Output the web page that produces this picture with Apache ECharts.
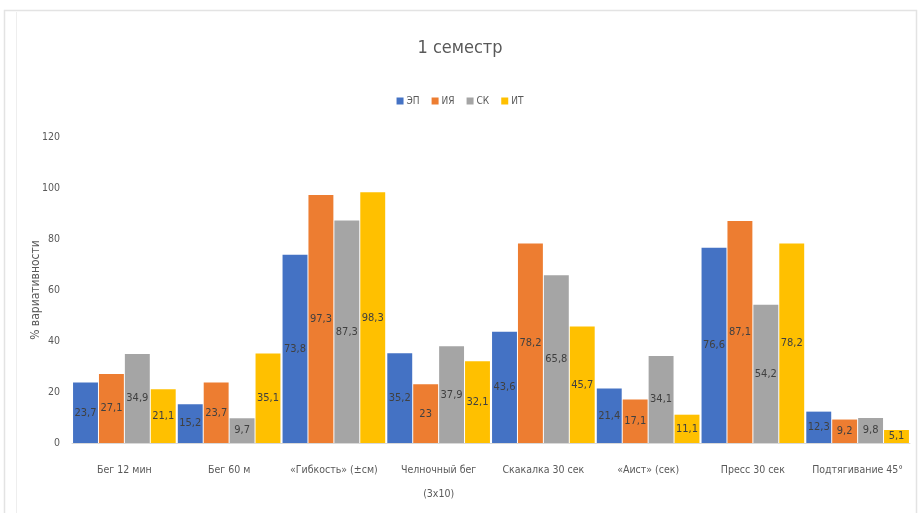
<!DOCTYPE html>
<html>
<head>
<meta charset="utf-8">
<script src="https://cdn.jsdelivr.net/npm/echarts@6/dist/echarts.min.js"></script>
<style>
  html, body { margin: 0; padding: 0; background: #ffffff; }
  #chart { width: 920px; height: 513px; }
</style>
</head>
<body>
<div id="chart"></div>
<script>
// Tests (x axis)
const categories = [
  'Бег 12 мин',
  'Бег 60 м',
  '«Гибкость» (±см)',
  'Челночный бег\n(3х10)',
  'Скакалка 30 сек',
  '«Аист» (сек)',
  'Пресс 30 сек',
  'Подтягивание 45°'
];

// Groups shown in the legend
const seriesNames = ['ЭП', 'ИЯ', 'СК', 'ИТ'];

// Coefficient of variation, % (1st semester)
const valuesEP = [23.7, 15.2, 73.8, 35.2, 43.6, 21.4, 76.6, 12.3];
const valuesIYa = [27.1, 23.7, 97.3, 23, 78.2, 17.1, 87.1, 9.2];
const valuesSK = [34.9, 9.7, 87.3, 37.9, 65.8, 34.1, 54.2, 9.8];
const valuesIT = [21.1, 35.1, 98.3, 32.1, 45.7, 11.1, 78.2, 5.1];

// Y axis ticks
const yTicks = [0, 20, 40, 60, 80, 100, 120];

const seriesValues = [valuesEP, valuesIYa, valuesSK, valuesIT];
const colors = ['#4472C4', '#ED7D31', '#A5A5A5', '#FFC000'];
const fontFamily = '"Liberation Sans Narrow", "DejaVu Sans Condensed", sans-serif';

const chart = echarts.init(document.getElementById('chart'), null, { renderer: 'canvas' });

chart.setOption({
  animation: false,
  backgroundColor: '#ffffff',
  color: colors,
  textStyle: { fontFamily: fontFamily },
  graphic: [
    {
      type: 'rect',
      shape: { x: 4.5, y: 10.5, width: 912, height: 520 },
      style: { fill: 'none', stroke: '#e3e3e3', lineWidth: 1.5 },
      silent: true, z: -1
    },
    {
      type: 'line',
      shape: { x1: 16.5, y1: 12, x2: 16.5, y2: 520 },
      style: { stroke: '#eeeeee', lineWidth: 1 },
      silent: true, z: -1
    }
  ],
  title: {
    text: '1 семестр',
    left: 'center',
    top: 34,
    textStyle: { fontFamily: fontFamily, fontSize: 18, fontWeight: 'normal', color: '#595959' }
  },
  legend: {
    data: seriesNames,
    top: 91,
    left: 'center',
    itemWidth: 7,
    itemHeight: 7,
    itemGap: 12,
    icon: 'rect',
    textStyle: { fontFamily: fontFamily, fontSize: 10, color: '#595959', padding: [0, 0, 0, -2] }
  },
  grid: { left: 72, right: 10, top: 137, bottom: 70 },
  xAxis: {
    type: 'category',
    data: categories,
    axisTick: { show: false },
    axisLine: { lineStyle: { color: '#d9d9d9' } },
    axisLabel: {
      interval: 0,
      margin: 15,
      fontFamily: fontFamily,
      fontSize: 10.5,
      color: '#595959',
      lineHeight: 24
    }
  },
  yAxis: {
    type: 'value',
    min: yTicks[0],
    max: yTicks[yTicks.length - 1],
    interval: yTicks[1] - yTicks[0],
    name: '% вариативности',
    nameLocation: 'middle',
    nameGap: 30,
    nameMoveOverlap: false,
    nameTextStyle: { fontFamily: fontFamily, fontSize: 12, color: '#595959' },
    splitLine: { show: false },
    axisLine: { show: false },
    axisTick: { show: false },
    axisLabel: { fontFamily: fontFamily, fontSize: 10.5, color: '#595959', margin: 12 }
  },
  series: seriesNames.map((name, i) => ({
    name: name,
    type: 'bar',
    data: seriesValues[i],
    barGap: '4%',
    barCategoryGap: '2%',
    itemStyle: { color: colors[i] },
    label: {
      show: true,
      position: 'inside',
      fontFamily: fontFamily,
      fontSize: 11,
      color: '#404040',
      formatter: p => String(p.value).replace('.', ',')
    }
  }))
});
</script>
</body>
</html>
